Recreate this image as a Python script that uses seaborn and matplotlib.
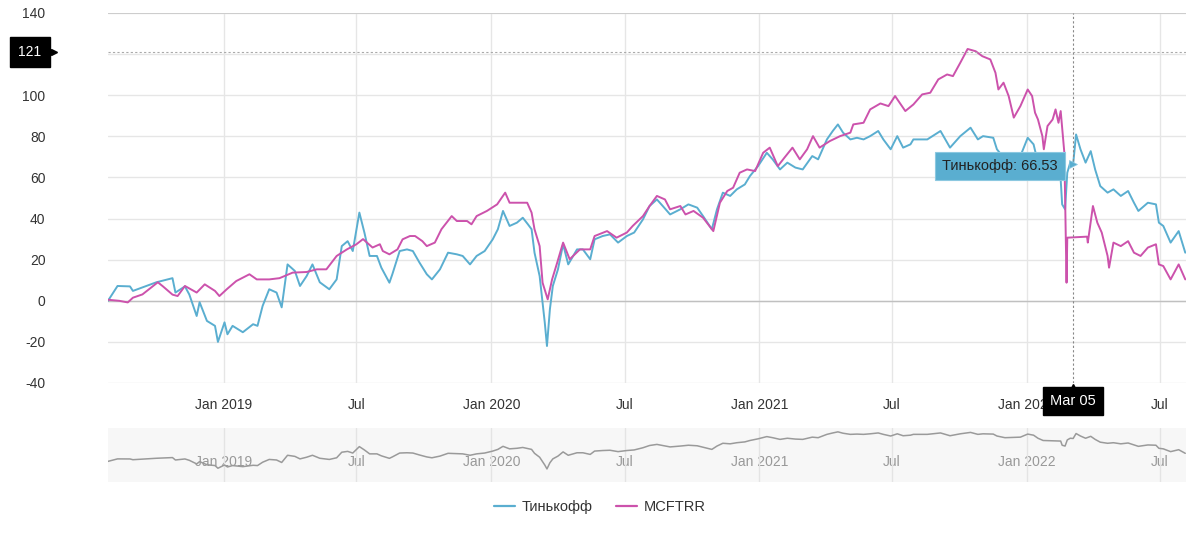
import matplotlib
matplotlib.use("Agg")
import matplotlib.pyplot as plt
from matplotlib.lines import Line2D
import seaborn as sns
import pandas as pd

sns.set_theme(style="white")
plt.rcParams['font.family'] = ['Liberation Sans', 'DejaVu Sans']

# ---------------- data ----------------
tinkoff_dates = [
    "2018-07-27", "2018-08-09", "2018-08-26", "2018-08-30", "2018-09-12", "2018-10-01", "2018-10-23",
    "2018-10-27", "2018-11-09", "2018-11-15", "2018-11-25", "2018-11-29", "2018-12-09", "2018-12-20",
    "2018-12-24", "2019-01-02", "2019-01-06", "2019-01-13", "2019-01-27", "2019-02-10", "2019-02-16",
    "2019-02-23", "2019-03-04", "2019-03-14", "2019-03-21", "2019-03-29", "2019-04-08", "2019-04-15",
    "2019-04-24", "2019-05-02", "2019-05-12", "2019-05-25", "2019-06-04", "2019-06-11", "2019-06-19",
    "2019-06-26", "2019-07-05", "2019-07-12", "2019-07-19", "2019-07-29", "2019-08-04", "2019-08-15",
    "2019-08-19", "2019-08-29", "2019-09-08", "2019-09-16", "2019-09-25", "2019-10-05", "2019-10-12",
    "2019-10-23", "2019-11-03", "2019-11-15", "2019-11-23", "2019-12-03", "2019-12-12", "2019-12-23",
    "2020-01-03", "2020-01-10", "2020-01-17", "2020-01-26", "2020-02-05", "2020-02-13", "2020-02-20",
    "2020-02-25", "2020-02-29", "2020-03-07", "2020-03-11", "2020-03-14", "2020-03-17", "2020-03-21",
    "2020-03-25", "2020-04-01", "2020-04-08", "2020-04-15", "2020-04-27", "2020-05-05", "2020-05-15",
    "2020-05-21", "2020-06-01", "2020-06-11", "2020-06-22", "2020-07-04", "2020-07-14", "2020-07-26",
    "2020-08-04", "2020-08-14", "2020-08-22", "2020-09-01", "2020-09-15", "2020-09-26", "2020-10-08",
    "2020-10-16", "2020-10-28", "2020-11-04", "2020-11-12", "2020-11-22", "2020-12-01", "2020-12-12",
    "2020-12-19", "2020-12-30", "2021-01-11", "2021-01-19", "2021-01-29", "2021-02-08", "2021-02-19",
    "2021-03-01", "2021-03-14", "2021-03-22", "2021-04-03", "2021-04-11", "2021-04-18", "2021-04-25",
    "2021-05-05", "2021-05-14", "2021-05-23", "2021-06-01", "2021-06-12", "2021-06-19", "2021-06-29",
    "2021-07-08", "2021-07-16", "2021-07-26", "2021-07-30", "2021-08-18", "2021-09-05", "2021-09-18",
    "2021-10-02", "2021-10-16", "2021-10-26", "2021-11-02", "2021-11-16", "2021-11-21", "2021-12-02",
    "2021-12-23", "2022-01-02", "2022-01-10", "2022-01-16", "2022-01-23", "2022-02-16", "2022-02-18",
    "2022-02-22", "2022-02-25", "2022-03-01", "2022-03-05", "2022-03-09", "2022-03-15", "2022-03-22",
    "2022-03-29", "2022-04-04", "2022-04-11", "2022-04-21", "2022-04-29", "2022-05-09", "2022-05-19",
    "2022-05-27", "2022-06-02", "2022-06-15", "2022-06-26", "2022-06-30", "2022-07-06", "2022-07-16",
    "2022-07-27", "2022-08-05",
]
tinkoff_values = [
    0.0, 7.2, 7.0, 4.8, 6.5, 9.0, 11.0,
    4.0, 7.0, 3.0, -7.4, -0.7, -9.8, -12.2,
    -20.0, -10.5, -16.3, -12.2, -15.3, -11.4, -12.2,
    -2.5, 5.6, 4.0, -3.2, 17.7, 14.5, 7.2,
    12.0, 17.7, 9.0, 5.6, 10.4, 26.6, 29.0,
    24.2, 42.9, 33.0, 21.8, 21.8, 16.1, 8.8,
    12.9, 24.2, 25.0, 24.2, 18.6, 12.9, 10.4,
    15.3, 23.4, 22.6, 21.8, 17.7, 21.8, 24.2,
    29.9, 34.8, 43.7, 36.4, 38.0, 40.4, 37.2,
    34.8, 23.4, 12.0, -0.9, -10.6, -22.0, -4.1,
    7.2, 15.3, 27.5, 17.7, 25.0, 25.0, 20.2,
    29.9, 31.5, 32.3, 28.3, 31.5, 33.2, 39.6,
    46.1, 49.3, 46.1, 42.0, 44.5, 46.9, 45.3,
    41.2, 34.8, 44.5, 52.6, 51.0, 54.2, 56.6,
    60.7, 65.5, 72.0, 68.8, 63.9, 67.2, 64.8,
    63.9, 70.4, 68.8, 78.5, 82.6, 85.8, 81.8,
    78.5, 79.3, 78.5, 80.1, 82.6, 78.5, 73.7,
    80.1, 74.5, 76.1, 78.5, 78.5, 82.6, 74.5,
    80.1, 84.2, 78.5, 80.1, 79.3, 73.7, 68.8,
    70.4, 79.3, 76.1, 67.2, 60.7, 59.0, 46.9,
    44.5, 62.3, 67.2, 66.53, 80.9, 73.7, 67.2,
    72.8, 63.9, 55.8, 52.6, 54.2, 51.0, 53.4,
    47.7, 43.7, 47.7, 46.9, 38.0, 36.4, 28.3,
    33.9, 23.4,
]

mcftrr_dates = [
    "2018-07-27", "2018-08-11", "2018-08-23", "2018-08-30", "2018-09-12", "2018-10-03", "2018-10-10",
    "2018-10-23", "2018-10-30", "2018-11-09", "2018-11-25", "2018-12-06", "2018-12-20", "2018-12-26",
    "2019-01-05", "2019-01-18", "2019-02-05", "2019-02-15", "2019-03-04", "2019-03-18", "2019-04-05",
    "2019-04-24", "2019-05-08", "2019-05-21", "2019-06-04", "2019-06-18", "2019-07-01", "2019-07-10",
    "2019-07-23", "2019-08-02", "2019-08-06", "2019-08-15", "2019-08-26", "2019-09-02", "2019-09-12",
    "2019-09-19", "2019-09-29", "2019-10-05", "2019-10-16", "2019-10-25", "2019-11-08", "2019-11-15",
    "2019-11-29", "2019-12-05", "2019-12-12", "2019-12-26", "2020-01-09", "2020-01-20", "2020-01-26",
    "2020-02-05", "2020-02-19", "2020-02-25", "2020-02-29", "2020-03-07", "2020-03-11", "2020-03-18",
    "2020-03-24", "2020-03-31", "2020-04-08", "2020-04-17", "2020-05-01", "2020-05-15", "2020-05-21",
    "2020-06-07", "2020-06-20", "2020-07-04", "2020-07-12", "2020-07-26", "2020-08-04", "2020-08-14",
    "2020-08-25", "2020-09-01", "2020-09-15", "2020-09-22", "2020-10-03", "2020-10-16", "2020-10-30",
    "2020-11-08", "2020-11-18", "2020-11-26", "2020-12-05", "2020-12-15", "2020-12-26", "2021-01-06",
    "2021-01-15", "2021-01-26", "2021-02-04", "2021-02-15", "2021-02-25", "2021-03-07", "2021-03-15",
    "2021-03-24", "2021-04-07", "2021-04-21", "2021-05-05", "2021-05-09", "2021-05-23", "2021-06-01",
    "2021-06-15", "2021-06-26", "2021-07-05", "2021-07-19", "2021-07-30", "2021-08-11", "2021-08-22",
    "2021-09-02", "2021-09-14", "2021-09-22", "2021-10-02", "2021-10-12", "2021-10-23", "2021-11-01",
    "2021-11-12", "2021-11-19", "2021-11-23", "2021-11-30", "2021-12-07", "2021-12-14", "2021-12-23",
    "2022-01-02", "2022-01-08", "2022-01-12", "2022-01-16", "2022-01-22", "2022-01-24", "2022-01-29",
    "2022-02-05", "2022-02-09", "2022-02-13", "2022-02-16", "2022-02-21", "2022-02-24", "2022-02-25",
    "2022-03-24", "2022-03-25", "2022-04-01", "2022-04-07", "2022-04-13", "2022-04-21", "2022-04-23",
    "2022-04-29", "2022-05-09", "2022-05-19", "2022-05-27", "2022-06-05", "2022-06-15", "2022-06-26",
    "2022-06-30", "2022-07-06", "2022-07-16", "2022-07-27", "2022-08-05",
]
mcftrr_values = [
    0.5, 0.0, -0.8, 1.5, 3.1, 9.0, 7.0,
    3.0, 2.3, 7.2, 4.0, 8.0, 4.8, 2.3,
    5.6, 9.6, 12.9, 10.4, 10.4, 11.0, 13.7,
    14.0, 15.3, 15.3, 21.8, 25.0, 27.5, 30.0,
    25.9, 27.5, 24.2, 22.6, 25.0, 29.9, 31.5,
    31.5, 29.0, 26.6, 28.3, 34.8, 41.2, 38.8,
    38.8, 37.2, 41.2, 43.7, 46.9, 52.6, 47.7,
    47.7, 47.7, 42.9, 34.8, 26.6, 8.8, 0.7,
    10.4, 18.6, 28.3, 20.2, 25.0, 25.0, 31.5,
    33.9, 30.7, 33.2, 36.4, 41.2, 46.1, 51.0,
    49.3, 44.5, 46.1, 42.0, 43.7, 40.4, 33.9,
    47.7, 53.4, 55.0, 62.3, 63.9, 63.1, 72.0,
    74.5, 65.5, 69.6, 74.5, 68.8, 73.7, 80.1,
    74.5, 77.7, 80.1, 81.8, 85.8, 86.6, 93.1,
    96.0, 94.7, 99.6, 92.3, 95.5, 100.4, 101.2,
    107.7, 110.1, 109.3, 115.8, 122.5, 121.4, 119.0,
    117.4, 110.9, 102.8, 106.1, 99.6, 89.1, 94.7,
    102.8, 99.6, 91.5, 88.2, 80.1, 73.7, 85.0,
    88.2, 93.1, 86.6, 92.3, 72.0, 8.8, 30.7,
    31.2, 28.3, 46.1, 38.0, 33.2, 21.8, 16.1,
    28.3, 26.6, 29.0, 23.4, 21.8, 25.9, 27.5,
    17.7, 16.9, 10.4, 17.7, 10.4,
]

series_names = ["Тинькофф", "MCFTRR"]
series_colors = ["#5aaed0", "#cc52ac"]

y_ticks = [-40, -20, 0, 20, 40, 60, 80, 100, 120, 140]
# the 120 label is hidden behind the crosshair value box in the reference
y_tick_labels = ["-40", "-20", "0", "20", "40", "60", "80", "100", "", "140"]
x_tick_dates = ["2019-01-01", "2019-07-01", "2020-01-01", "2020-07-01",
                "2021-01-01", "2021-07-01", "2022-01-01", "2022-07-01"]
x_tick_labels = ["Jan 2019", "Jul", "Jan 2020", "Jul", "Jan 2021", "Jul", "Jan 2022", "Jul"]
x_range = ["2018-07-27", "2022-08-06"]

crosshair_date = "2022-03-05"
crosshair_date_label = "Mar 05"
crosshair_value = 121
tooltip_value = 66.53

# ---------------- build frame ----------------
df = pd.concat([
    pd.DataFrame({"date": pd.to_datetime(tinkoff_dates), "value": tinkoff_values, "series": series_names[0]}),
    pd.DataFrame({"date": pd.to_datetime(mcftrr_dates), "value": mcftrr_values, "series": series_names[1]}),
], ignore_index=True)
palette = dict(zip(series_names, series_colors))

W, H = 1200, 539
fig = plt.figure(figsize=(W / 100, H / 100), dpi=100)
fig.patch.set_facecolor("white")

L, R = 108 / W, 1186 / W
AXW = 1186 - 108
ax = fig.add_axes([L, 1 - 383 / H, R - L, (383 - 13) / H])
nav = fig.add_axes([L, 1 - 482 / H, R - L, (482 - 428) / H])

xmin, xmax = pd.to_datetime(x_range[0]), pd.to_datetime(x_range[1])
tick_dt = pd.to_datetime(x_tick_dates)

# ---------------- main chart ----------------
sns.lineplot(data=df, x="date", y="value", hue="series", hue_order=series_names,
             palette=palette, linewidth=1.4, ax=ax, legend=False, estimator=None, sort=True)

ax.set_xlim(xmin, xmax)
ax.set_ylim(-40, 140)
ax.set_yticks(y_ticks)
ax.set_yticklabels(y_tick_labels)
ax.set_xticks(tick_dt)
ax.set_xticklabels(x_tick_labels)
ax.tick_params(axis="both", length=0, labelsize=10, colors="#333333")
ax.tick_params(axis="y", pad=45)
ax.tick_params(axis="x", pad=11)
ax.set_xlabel("")
ax.set_ylabel("")
ax.grid(True, axis="both", color="#e6e6e6", linewidth=1)
ax.set_axisbelow(True)
for s in ax.spines.values():
    s.set_visible(False)
ax.axhline(140, color="#c8c8c8", linewidth=1.2, zorder=1)
ax.axhline(0, color="#c0c0c0", linewidth=1, zorder=1)

# crosshairs
cdt = pd.to_datetime(crosshair_date)
ax.axvline(cdt, color="#888888", linewidth=0.8, linestyle=(0, (2, 2)), zorder=4)
ax.axhline(crosshair_value, color="#aaaaaa", linewidth=0.8, linestyle=(0, (2, 2)), zorder=4)

# y crosshair label box
ytr = ax.get_yaxis_transform()
ax.text(-78 / AXW, crosshair_value, str(crosshair_value), transform=ytr, ha="center", va="center",
        color="white", fontsize=10, zorder=10, clip_on=False,
        bbox=dict(boxstyle="square,pad=0.6", fc="black", ec="black"))
ax.plot([-54 / AXW], [crosshair_value], marker=">", color="black", markersize=5,
        transform=ytr, clip_on=False, zorder=10)

# x crosshair label box
xtr = ax.get_xaxis_transform()
ax.text(cdt, -18 / 370, crosshair_date_label, transform=xtr, ha="center", va="center",
        color="white", fontsize=10.5, zorder=10, clip_on=False,
        bbox=dict(boxstyle="square,pad=0.5", fc="black", ec="black"))
ax.plot([cdt], [-4 / 370], marker="^", color="black", markersize=5,
        transform=xtr, clip_on=False, zorder=10)

# tooltip
ax.annotate(f"{series_names[0]}: {tooltip_value:.2f}", xy=(cdt, tooltip_value), xytext=(-73, -2),
            textcoords="offset pixels", ha="center", va="center", fontsize=10.5, color="#222222",
            zorder=12, bbox=dict(boxstyle="square,pad=0.5", fc="#5aaed0", ec="#8cc8e0", lw=0.8))
ax.plot([cdt], [tooltip_value], marker=">", color="#5aaed0", markersize=6, zorder=12,
        markeredgecolor="#8cc8e0", markeredgewidth=0.5)

# ---------------- navigator ----------------
nav.set_facecolor("#f7f7f7")
nav_df = df[df["series"] == series_names[0]]
sns.lineplot(data=nav_df, x="date", y="value", color="#9a9a9a", linewidth=1.1, ax=nav,
             legend=False, estimator=None)
nav.set_xlim(xmin, xmax)
nav.set_ylim(-60, 97)
nav.set_xticks(tick_dt)
nav.set_xticklabels([])
nav.set_yticks([])
nav.set_xlabel("")
nav.set_ylabel("")
nav.tick_params(length=0)
nav.grid(True, axis="x", color="#e4e4e4", linewidth=1)
nav.set_axisbelow(True)
for s in nav.spines.values():
    s.set_visible(False)
ntr = nav.get_xaxis_transform()
for d, lab in zip(tick_dt, x_tick_labels):
    nav.text(d, 20 / 54, lab, transform=ntr, ha="center", va="center", fontsize=10,
             color="#999999", zorder=0)

# ---------------- legend ----------------
handles = [Line2D([0], [0], color=c, linewidth=1.6) for c in series_colors]
fig.legend(handles, series_names, loc="center", bbox_to_anchor=(0.5, 1 - 507 / H), ncol=2,
           frameon=False, fontsize=10.5, handlelength=1.4, handletextpad=0.5, columnspacing=1.6,
           labelcolor="#333333")

fig.savefig("out.png", dpi=100, facecolor="white")
